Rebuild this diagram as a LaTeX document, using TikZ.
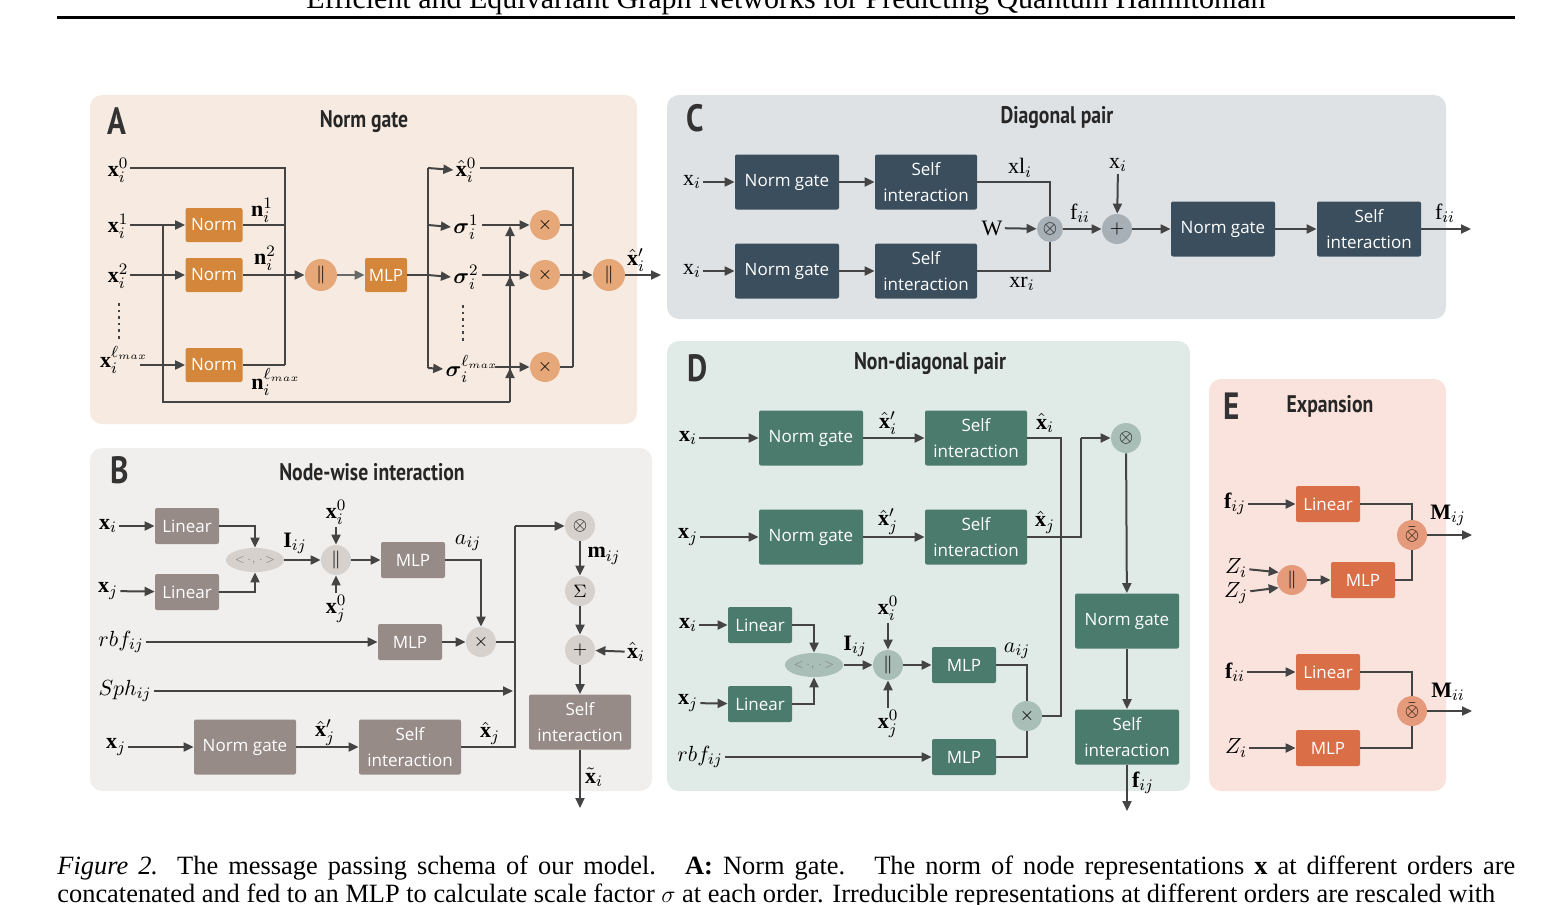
\documentclass[tikz,border=0pt]{standalone}
\usepackage{amsmath}
\usepackage{fontspec}
\setmainfont{Liberation Serif}
\newfontfamily\boxfont{Open Sans}
\newfontfamily\ttlfont[FakeStretch=0.82]{PT Sans}
\usetikzlibrary{arrows.meta,shapes.geometric}
\definecolor{bgA}{HTML}{F7EBE1}\definecolor{bxA}{HTML}{D4873A}\definecolor{ciA}{HTML}{E6A878}
\definecolor{bgB}{HTML}{F1EFED}\definecolor{bxB}{HTML}{968B86}\definecolor{ciB}{HTML}{D6D1CD}
\definecolor{bgC}{HTML}{DFE2E5}\definecolor{bxC}{HTML}{3B4E5D}\definecolor{ciC}{HTML}{A8B0B7}
\definecolor{bgD}{HTML}{E0EAE6}\definecolor{bxD}{HTML}{4B7B6C}\definecolor{ciD}{HTML}{A9BEB6}
\definecolor{bgE}{HTML}{F9E3DC}\definecolor{bxE}{HTML}{DA6E47}\definecolor{ciE}{HTML}{E59B7B}
\definecolor{ink}{HTML}{444444}
\tikzset{
 panel/.style={fill=#1,draw=none,rounded corners=6pt},
 bx/.style={fill=#1,text=white,rounded corners=1pt,font=\boxfont\fontsize{8.5}{10}\selectfont,align=center,inner sep=0pt},
 sz/.style n args={2}{minimum width=#1*0.5pt,minimum height=#2*0.5pt},
 ci/.style={fill=#1,circle,inner sep=0pt,minimum size=15pt,font=\small},
 lbl/.style={inner sep=1pt,font=\fontsize{11}{13}\selectfont},
 ln/.style={draw=ink,line width=1pt},
 arr/.style={draw=ink,line width=1pt,-{Triangle[length=5pt,width=4.5pt]}},
 ttl/.style={font=\ttlfont\bfseries\fontsize{12}{14}\selectfont,text=black!85},
 big/.style={font=\ttlfont\bfseries\fontsize{19}{20}\selectfont,text=black!80},
}
\newcommand{\bx}{\mathbf{x}}
\newcommand{\hx}{\hat{\mathbf{x}}}
\begin{document}
\begin{tikzpicture}[x=0.5pt,y=-0.5pt]
\useasboundingbox (0,0) rectangle (1566,904);
\fill[white] (0,0) rectangle (1566,904);
% header
\node[font=\fontsize{15}{16}\selectfont] (hdr) at (786,1) {Efficient and Equivariant Graph Networks for Predicting Quantum Hamiltonian};
\draw[line width=1.5pt] (57,18) -- (1515,18);
% caption
\node[anchor=north west,inner sep=0pt,text width=729pt,align=justify,font=\fontsize{13.2}{14}\selectfont] (cap) at (57,855)
{\textit{Figure 2.} The message passing schema of our model. \ \textbf{A:} Norm gate. \ The norm of node representations $\mathbf{x}$ at different orders are\linebreak concatenated and fed to an MLP to calculate scale factor $\sigma$ at each order. Irreducible representations at different orders are rescaled with};
% panels
\fill[panel=bgA] (90,95) rectangle (637,424);
\fill[panel=bgB] (90,448) rectangle (652,791);
\fill[panel=bgC] (667,95) rectangle (1446,319);
\fill[panel=bgD] (667,341) rectangle (1190,791);
\fill[panel=bgE] (1209,379) rectangle (1446,791);

%%%%% A
\node[big] (LA) at (117,121) {A};
\node[ttl] (TA) at (364,122) {Norm gate};
\node[lbl] (a0) at (118,170) {$\bx_i^0$};
\node[lbl] (a1) at (118,226) {$\bx_i^1$};
\node[lbl] (a2) at (118,276) {$\bx_i^2$};
\node[lbl] (a3) at (124,360) {$\bx_i^{\ell_{max}}$};
\draw[ink,line width=1.3pt,dotted] (119,303) -- (119,342);
\node[bx=bxA,sz={57}{34}] (n1) at (214,225) {Norm};
\node[bx=bxA,sz={57}{34}] (n2) at (214,275) {Norm};
\node[bx=bxA,sz={57}{34}] (n3) at (214,365) {Norm};
\node[lbl] (ln1) at (262,210) {$\mathbf{n}_i^1$};
\node[lbl] (ln2) at (265,258) {$\mathbf{n}_i^2$};
\node[lbl] (ln3) at (276,382) {$\mathbf{n}_i^{\ell_{max}}$};
\draw[arr] (130,225) -- (n1);
\draw[arr] (130,275) -- (n2);
\draw[arr] (140,365) -- (n3);
\draw[ln] (130,168) -- (285,168) -- (285,365);
\draw[ln] (n1) -- (285,225);
\draw[ln] (n2) -- (285,275);
\draw[ln] (n3) -- (285,365);
\node[ci=ciA,minimum size=16pt] (ca) at (321,275) {$\|$};
\node[bx=bxA,sz={42}{34}] (amlp) at (386,275) {MLP};
\draw[arr] (285,275) -- (ca);
\draw[arr,draw=ink!80] (ca) -- (amlp);
\draw[ln] (amlp) -- (428,275);
\draw[ln] (428,168) -- (428,368);
\node[lbl] (hx0) at (466,170) {$\hx_i^0$};
\node[lbl] (s1) at (466,227) {$\boldsymbol\sigma_i^1$};
\node[lbl] (s2) at (466,277) {$\boldsymbol\sigma_i^2$};
\node[lbl] (s3) at (472,369) {$\boldsymbol\sigma_i^{\ell_{max}}$};
\draw[ink,line width=1.3pt,dotted] (463,305) -- (463,341);
\draw[arr] (428,168) -- (hx0.west);
\draw[arr] (428,225) -- (s1.west);
\draw[arr] (428,275) -- (s2.west);
\draw[arr] (428,368) -- (s3.west);
\node[ci=ciA] (m1) at (545,225) {$\times$};
\node[ci=ciA] (m2) at (545,275) {$\times$};
\node[ci=ciA] (m3) at (545,367) {$\times$};
\draw[arr] (482,225) -- (m1);
\draw[arr] (482,275) -- (m2);
\draw[arr] (495,367) -- (m3);
\draw[ln] (163,225) -- (163,402) -- (510,402);
\draw[arr] (510,402) -- (510,226);
\draw[arr] (510,402) -- (510,276);
\draw[arr] (510,402) -- (510,368);
\draw[ln] (480,168) -- (573,168) -- (573,367);
\draw[ln] (m1) -- (573,225);
\draw[ln] (m3) -- (573,367);
\draw[ln] (m2) -- (573,275);
\node[ci=ciA,minimum size=16pt] (cb) at (609,275) {$\|$};
\draw[arr] (573,275) -- (cb);
\coordinate (aout) at (661,275);
\draw[arr] (cb) -- (aout);
\node[lbl] (hxp) at (636,260) {$\hx_i'$};

%%%%% B
\node[big] (LB) at (120,470) {B};
\node[ttl] (TB) at (372,472) {Node-wise interaction};
\node[lbl] (bxi) at (108,526) {$\bx_i$};
\node[lbl] (bxj) at (108,591) {$\bx_j$};
\node[bx=bxB,sz={64}{36}] (bl1) at (187,526) {Linear};
\node[bx=bxB,sz={64}{36}] (bl2) at (187,592) {Linear};
\draw[arr] (bxi) -- (bl1);
\draw[arr] (bxj) -- (bl2);
\node[fill=ciB,ellipse,minimum width=20pt,minimum height=12pt,inner sep=0pt,font=\tiny,text=gray] (bip) at (255,560) {$<\!\cdot,\cdot\!>$};
\draw[arr] (bl1) -| (bip);
\draw[arr] (bl2) -| (bip);
\node[ci=ciB] (bc) at (336,560) {$\|$};
\draw[arr] (bip) -- (bc);
\node[lbl] (bI) at (295,543) {$\mathbf{I}_{ij}$};
\node[lbl] (bx0i) at (336,512) {$\bx_i^0$};
\node[lbl] (bx0j) at (336,609) {$\bx_j^0$};
\draw[arr] (bx0i) -- (bc);
\draw[arr] (bx0j) -- (bc);
\node[bx=bxB,sz={64}{36}] (bm1) at (413,560) {MLP};
\draw[arr] (bc) -- (bm1);
\node[lbl] (ba) at (468,543) {$a_{ij}$};
\node[ci=ciB] (bt) at (481,642) {$\times$};
\draw[arr] (bm1) -| (bt);
\node[lbl] (brbf) at (121,642) {$rbf_{ij}$};
\node[bx=bxB,sz={64}{36}] (bm2) at (410,642) {MLP};
\draw[arr] (brbf) -- (bm2);
\draw[arr] (bm2) -- (bt);
\node[lbl] (bsph) at (125,691) {$Sph_{ij}$};
\coordinate (bsphe) at (513,691);
\draw[arr] (bsph) -- (bsphe);
\node[lbl] (bxj2) at (116,747) {$\bx_j$};
\node[bx=bxB,sz={102}{55}] (bng) at (245,747) {Norm gate};
\node[bx=bxB,sz={102}{55}] (bsi) at (410,747) {Self\\[3pt]interaction};
\draw[arr] (bxj2) -- (bng);
\draw[arr] (bng) -- (bsi);
\node[lbl] (bhxp) at (325,733) {$\hx_j'$};
\node[lbl] (bhx) at (490,733) {$\hx_j$};
\node[ci=ciB] (bo) at (580,526) {$\otimes$};
\draw[ln] (bsi) -- (515,747) -- (515,526);
\draw[ln] (bt) -- (515,642);
\draw[arr] (515,526) -- (bo);
\node[ci=ciB] (bs) at (580,591) {$\Sigma$};
\node[ci=ciB] (bp) at (580,650) {$+$};
\draw[arr] (bo) -- (bs);
\draw[arr] (bs) -- (bp);
\node[lbl] (bmij) at (604,556) {$\mathbf{m}_{ij}$};
\node[lbl] (bhxi) at (636,652) {$\hx_i$};
\draw[arr] (bhxi) -- (bp);
\node[bx=bxB,sz={102}{55}] (bsi2) at (580,722) {Self\\[3pt]interaction};
\draw[arr] (bp) -- (bsi2);
\coordinate (bout) at (580,808);
\draw[arr] (bsi2) -- (bout);
\node[lbl] (btx) at (594,777) {$\tilde{\bx}_i$};

%%%%% C
\node[big] (LC) at (695,118) {C};
\node[ttl] (TC) at (1057,118) {Diagonal pair};
\node[lbl] (cx1) at (692,182) {$\mathrm{x}_i$};
\node[lbl] (cx2) at (692,271) {$\mathrm{x}_i$};
\node[bx=bxC,sz={104}{55}] (cn1) at (787,182) {Norm gate};
\node[bx=bxC,sz={104}{55}] (cn2) at (787,271) {Norm gate};
\node[bx=bxC,sz={102}{55}] (cs1) at (926,182) {Self\\[3pt]interaction};
\node[bx=bxC,sz={102}{55}] (cs2) at (926,271) {Self\\[3pt]interaction};
\draw[arr] (cx1) -- (cn1); \draw[arr] (cx2) -- (cn2);
\draw[arr] (cn1) -- (cs1); \draw[arr] (cn2) -- (cs2);
\node[lbl] (cxl) at (1020,168) {$\mathrm{xl}_i$};
\node[lbl] (cxr) at (1022,284) {$\mathrm{xr}_i$};
\node[ci=ciC,minimum size=13pt] (co) at (1050,229) {$\otimes$};
\draw[ln] (cs1) -| (co);
\draw[ln] (cs2) -| (co);
\node[lbl] (cW) at (992,228) {$\mathrm{W}$};
\draw[arr] (cW) -- (co);
\node[ci=ciC] (cp) at (1117,229) {$+$};
\draw[arr] (co) -- (cp);
\node[lbl] (cf) at (1080,213) {$\mathrm{f}_{ii}$};
\node[lbl] (cxt) at (1118,165) {$\mathrm{x}_i$};
\draw[arr] (cxt) -- (cp);
\node[bx=bxC,sz={104}{55}] (cn3) at (1223,229) {Norm gate};
\node[bx=bxC,sz={104}{55}] (cs3) at (1369,229) {Self\\[3pt]interaction};
\draw[arr] (cp) -- (cn3);
\draw[arr] (cn3) -- (cs3);
\coordinate (cout) at (1471,229);
\draw[arr] (cs3) -- (cout);
\node[lbl] (cf2) at (1445,213) {$\mathrm{f}_{ii}$};

%%%%% D
\node[big] (LD) at (698,368) {D};
\node[ttl] (TD) at (930,364) {Non-diagonal pair};
\node[lbl] (dxi) at (688,438) {$\bx_i$};
\node[lbl] (dxj) at (688,537) {$\bx_j$};
\node[bx=bxD,sz={104}{55}] (dn1) at (811,438) {Norm gate};
\node[bx=bxD,sz={104}{55}] (dn2) at (811,537) {Norm gate};
\node[bx=bxD,sz={102}{55}] (ds1) at (976,438) {Self\\[3pt]interaction};
\node[bx=bxD,sz={102}{55}] (ds2) at (976,537) {Self\\[3pt]interaction};
\draw[arr] (dxi) -- (dn1); \draw[arr] (dxj) -- (dn2);
\draw[arr] (dn1) -- (ds1); \draw[arr] (dn2) -- (ds2);
\node[lbl] (dp1) at (888,423) {$\hx_i'$};
\node[lbl] (dp2) at (888,522) {$\hx_j'$};
\node[lbl] (dh1) at (1045,423) {$\hx_i$};
\node[lbl] (dh2) at (1045,522) {$\hx_j$};
\node[ci=ciD] (do) at (1126,438) {$\otimes$};
\node[ci=ciD] (dt) at (1027,716) {$\times$};
\draw[ln] (ds1) -- (1061,438) -- (1061,716) -- (dt);
\draw[ln] (ds2) -- (1081,537) -- (1081,438);
\draw[arr] (1081,438) -- (do);
\node[bx=bxD,sz={104}{55}] (dn3) at (1127,621) {Norm gate};
\node[bx=bxD,sz={104}{55}] (ds3) at (1127,737) {Self\\[3pt]interaction};
\draw[arr] (do) -- (dn3);
\draw[arr] (dn3) -- (ds3);
\coordinate (dout) at (1127,811);
\draw[arr] (ds3) -- (dout);
\node[lbl] (dfij) at (1143,783) {$\mathbf{f}_{ij}$};
\node[lbl] (dlxi) at (688,625) {$\bx_i$};
\node[lbl] (dlxj) at (688,703) {$\bx_j$};
\node[bx=bxD,sz={64}{36}] (dl1) at (760,625) {Linear};
\node[bx=bxD,sz={64}{36}] (dl2) at (760,704) {Linear};
\draw[arr] (dlxi) -- (dl1); \draw[arr] (dlxj) -- (dl2);
\node[fill=ciD,ellipse,minimum width=21pt,minimum height=12pt,inner sep=0pt,font=\tiny,text=gray] (dip) at (814,665) {$<\!\cdot,\cdot\!>$};
\draw[arr] (dl1) -| (dip);
\draw[arr] (dl2) -| (dip);
\node[ci=ciD] (dc) at (888,665) {$\|$};
\draw[arr] (dip) -- (dc);
\node[lbl] (dI) at (855,646) {$\mathbf{I}_{ij}$};
\node[lbl] (dx0i) at (888,608) {$\bx_i^0$};
\node[lbl] (dx0j) at (888,724) {$\bx_j^0$};
\draw[arr] (dx0i) -- (dc);
\draw[arr] (dx0j) -- (dc);
\node[bx=bxD,sz={64}{36}] (dm1) at (964,665) {MLP};
\draw[arr] (dc) -- (dm1);
\node[lbl] (da) at (1017,651) {$a_{ij}$};
\draw[ln] (dm1) -| (dt);
\node[lbl] (drbf) at (700,757) {$rbf_{ij}$};
\node[bx=bxD,sz={64}{36}] (dm2) at (964,757) {MLP};
\draw[arr] (drbf) -- (dm2);
\draw[ln] (dm2) -| (dt);

%%%%% E
\node[big] (LE) at (1232,406) {E};
\node[ttl] (TE) at (1330,406) {Expansion};
\node[lbl] (ef1) at (1235,504) {$\mathbf{f}_{ij}$};
\node[bx=bxE,sz={64}{36}] (el1) at (1328,504) {Linear};
\draw[arr] (ef1) -- (el1);
\node[ci=ciE] (eo1) at (1412,535) {$\bar{\otimes}$};
\draw[ln] (el1) -| (eo1);
\node[lbl] (eZi) at (1236,568) {$Z_i$};
\node[lbl] (eZj) at (1236,593) {$Z_j$};
\node[ci=ciE] (ec) at (1292,580) {$\|$};
\draw[arr] (eZi) -- (ec.150);
\draw[arr] (eZj) -- (ec.210);
\node[bx=bxE,sz={64}{36}] (em1) at (1363,580) {MLP};
\draw[arr] (ec) -- (em1);
\draw[ln] (em1) -| (eo1);
\coordinate (eout1) at (1472,535);
\draw[arr] (eo1) -- (eout1);
\node[lbl] (eM1) at (1448,515) {$\mathbf{M}_{ij}$};
\node[lbl] (ef2) at (1235,672) {$\mathbf{f}_{ii}$};
\node[bx=bxE,sz={64}{36}] (el2) at (1328,672) {Linear};
\draw[arr] (ef2) -- (el2);
\node[lbl] (eZi2) at (1236,748) {$Z_i$};
\node[bx=bxE,sz={64}{36}] (em2) at (1328,748) {MLP};
\draw[arr] (eZi2) -- (em2);
\node[ci=ciE] (eo2) at (1412,711) {$\bar{\otimes}$};
\draw[ln] (el2) -| (eo2);
\draw[ln] (em2) -| (eo2);
\coordinate (eout2) at (1472,711);
\draw[arr] (eo2) -- (eout2);
\node[lbl] (eM2) at (1448,692) {$\mathbf{M}_{ii}$};
\end{tikzpicture}
\end{document}
